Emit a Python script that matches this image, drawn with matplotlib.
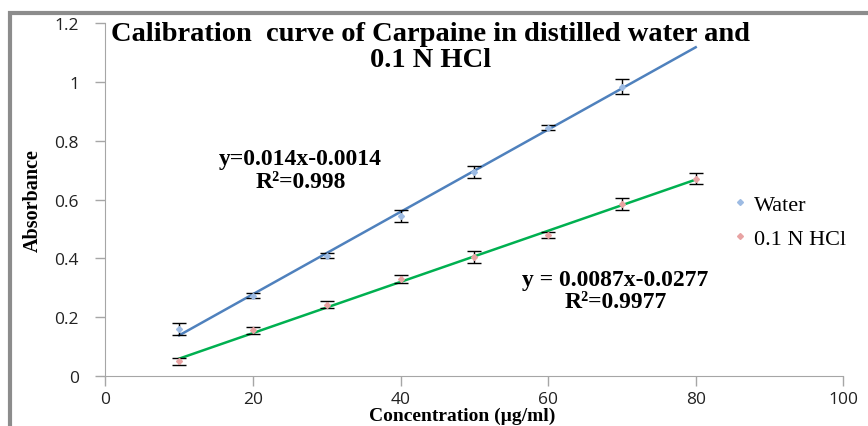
import numpy as np
import matplotlib
matplotlib.use("Agg")
import matplotlib.pyplot as plt
from matplotlib.patches import Rectangle
from matplotlib.lines import Line2D

# data
conc_water = [10, 20, 30, 40, 50, 60, 70]
abs_water = [0.16, 0.273, 0.41, 0.545, 0.695, 0.845, 0.985]
err_water = [0.02, 0.008, 0.008, 0.02, 0.02, 0.008, 0.025]

conc_hcl = [10, 20, 30, 40, 50, 60, 70, 80]
abs_hcl = [0.05, 0.155, 0.243, 0.33, 0.405, 0.481, 0.585, 0.672]
err_hcl = [0.012, 0.012, 0.012, 0.015, 0.02, 0.01, 0.02, 0.02]

# trendline coefficients (slope, intercept) as printed on the chart
fit_water = (0.014, -0.0014)
fit_hcl = (0.0087, -0.0277)
fit_range = (10, 80)

x_ticks = [0, 20, 40, 60, 80, 100]
y_ticks = [0, 0.2, 0.4, 0.6, 0.8, 1.0, 1.2]
y_ticklabels = ["0", "0.2", "0.4", "0.6", "0.8", "1", "1.2"]

BLUE = "#4f81bd"
GREEN = "#00b050"
AXIS = "#a6a6a6"
MK_WATER = "#9dbbe3"
MK_HCL = "#e8a3a3"
SERIF = "Liberation Serif"

fig = plt.figure(figsize=(8.68, 4.27), dpi=100)
ax = fig.add_axes([0.1215, 0.117, 0.85, 0.826])

xs = np.array(fit_range)
ax.plot(xs, fit_water[0] * xs + fit_water[1], color=BLUE, lw=1.8, zorder=2)
ax.plot(xs, fit_hcl[0] * xs + fit_hcl[1], color=GREEN, lw=1.8, zorder=2)

ax.errorbar(conc_water, abs_water, yerr=err_water, fmt="D", ms=3,
            mfc=MK_WATER, mec=MK_WATER, ecolor="black", elinewidth=1,
            capsize=5, capthick=1, zorder=3)
ax.errorbar(conc_hcl, abs_hcl, yerr=err_hcl, fmt="D", ms=3,
            mfc=MK_HCL, mec=MK_HCL, ecolor="black", elinewidth=1,
            capsize=5, capthick=1, zorder=3)

ax.set_xlim(0, 100)
ax.set_ylim(0, 1.2)
ax.set_xticks(x_ticks)
ax.set_yticks(y_ticks)
ax.set_yticklabels(y_ticklabels)
ax.tick_params(axis="both", colors=AXIS, labelcolor="#222222",
               labelsize=12.5, length=7, width=1, direction="out")
ax.tick_params(axis="x", pad=4)
ax.tick_params(axis="y", pad=12)
for side in ("top", "right"):
    ax.spines[side].set_visible(False)
for side in ("left", "bottom"):
    ax.spines[side].set_color(AXIS)
for lab in ax.get_xticklabels() + ax.get_yticklabels():
    lab.set_family("Open Sans")

# labels and annotations
fig.text(0.038, 0.53, "Absorbance", rotation=90, ha="center", va="center",
         family=SERIF, fontweight="bold", fontsize=14.5)
fig.text(0.533, 0.004, "Concentration (µg/ml)", ha="center", va="bottom",
         family=SERIF, fontweight="bold", fontsize=14)
fig.text(0.496, 0.888, "Calibration  curve of Carpaine in distilled water and\n0.1 N HCl",
         ha="center", va="center", family=SERIF, fontweight="bold",
         fontsize=20.5, linespacing=1.05)
fig.text(0.346, 0.6, "y=0.014x-0.0014\nR²=0.998", ha="center", va="center",
         family=SERIF, fontweight="bold", fontsize=17, linespacing=1.15)
fig.text(0.709, 0.317, "y = 0.0087x-0.0277\nR²=0.9977", ha="center", va="center",
         family=SERIF, fontweight="bold", fontsize=17, linespacing=1.1)

handles = [
    Line2D([], [], ls="none", marker="D", ms=3, mfc=MK_WATER, mec=MK_WATER),
    Line2D([], [], ls="none", marker="D", ms=3, mfc=MK_HCL, mec=MK_HCL),
]
fig.legend(handles, ["Water", "0.1 N HCl"], loc="center left",
           bbox_to_anchor=(0.817, 0.479), frameon=False,
           prop={"family": SERIF, "size": 16}, handletextpad=0.1,
           labelspacing=0.6, handlelength=1.0)

# outer chart border
fig.patches.append(Rectangle((0.011, -0.05), 1.2, 1.018, transform=fig.transFigure,
                             fill=False, edgecolor="#8c8c8c", lw=3))

fig.savefig("out.png", dpi=100)
